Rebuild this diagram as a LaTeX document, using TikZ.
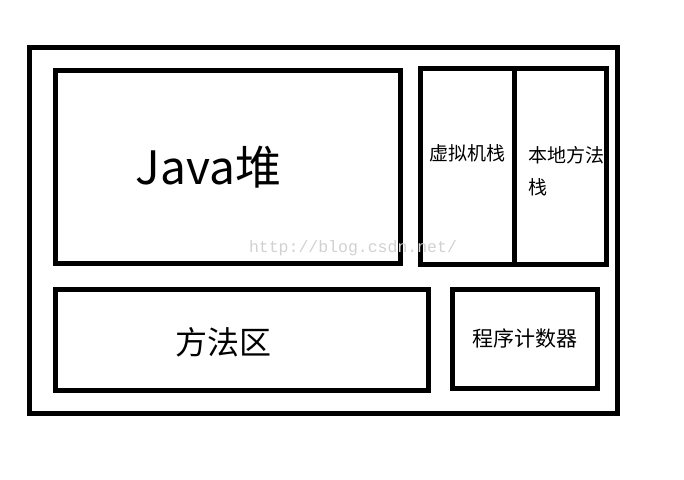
\documentclass[tikz,border=0pt]{standalone}
\usepackage{fontspec}
\setmainfont{Noto Sans CJK SC}
\newfontfamily\wmfont{Liberation Mono}
\usetikzlibrary{positioning}

\begin{document}
\begin{tikzpicture}[x=1pt, y=-1pt,
    area/.style={rectangle, draw, line width=5pt, inner sep=0pt, align=center},
    small/.style={font=\fontsize{19}{32}\selectfont, align=left}
  ]
    \useasboundingbox (0,0) rectangle (684,479);
    % runtime data areas
    \node[area, minimum width=587.7pt, minimum height=366.5pt] (jvm) at (323.6,230.7) {};
    \node[area, minimum width=345pt, minimum height=193pt] (heap) at (227.5,166.5) {};
    \node[area, minimum width=93.5pt, minimum height=196pt] (vms) at (467.25,166.5) {};
    \node[area, minimum width=92.5pt, minimum height=196pt] (nms) at (560.25,166.5) {};
    \node[area, minimum width=373pt, minimum height=101pt] (method) at (241.5,339.5) {};
    \node[area, minimum width=145pt, minimum height=99pt, font=\fontsize{21}{21}\selectfont] (pc) at (525,338.5) {程序计数器};
    % labels
    \node[font=\fontsize{46}{46}\selectfont] (heaplbl) at ([xshift=-19pt, yshift=-1pt]heap.center) {Java堆};
    \node[font=\fontsize{32}{32}\selectfont] (methodlbl) at ([xshift=-18pt, yshift=-3pt]method.center) {方法区};
    \node[small] (vmslbl) at ([yshift=13pt]vms.center) {虚拟机栈};
    \node[small, anchor=north west] (nmslbl) at (525,143) {本地方法\\栈};
    \node[font=\wmfont\fontsize{16.5}{16.5}\selectfont, text=black!18] (mark) at (353,248) {http://blog.csdn.net/};
  \end{tikzpicture}
\end{document}
